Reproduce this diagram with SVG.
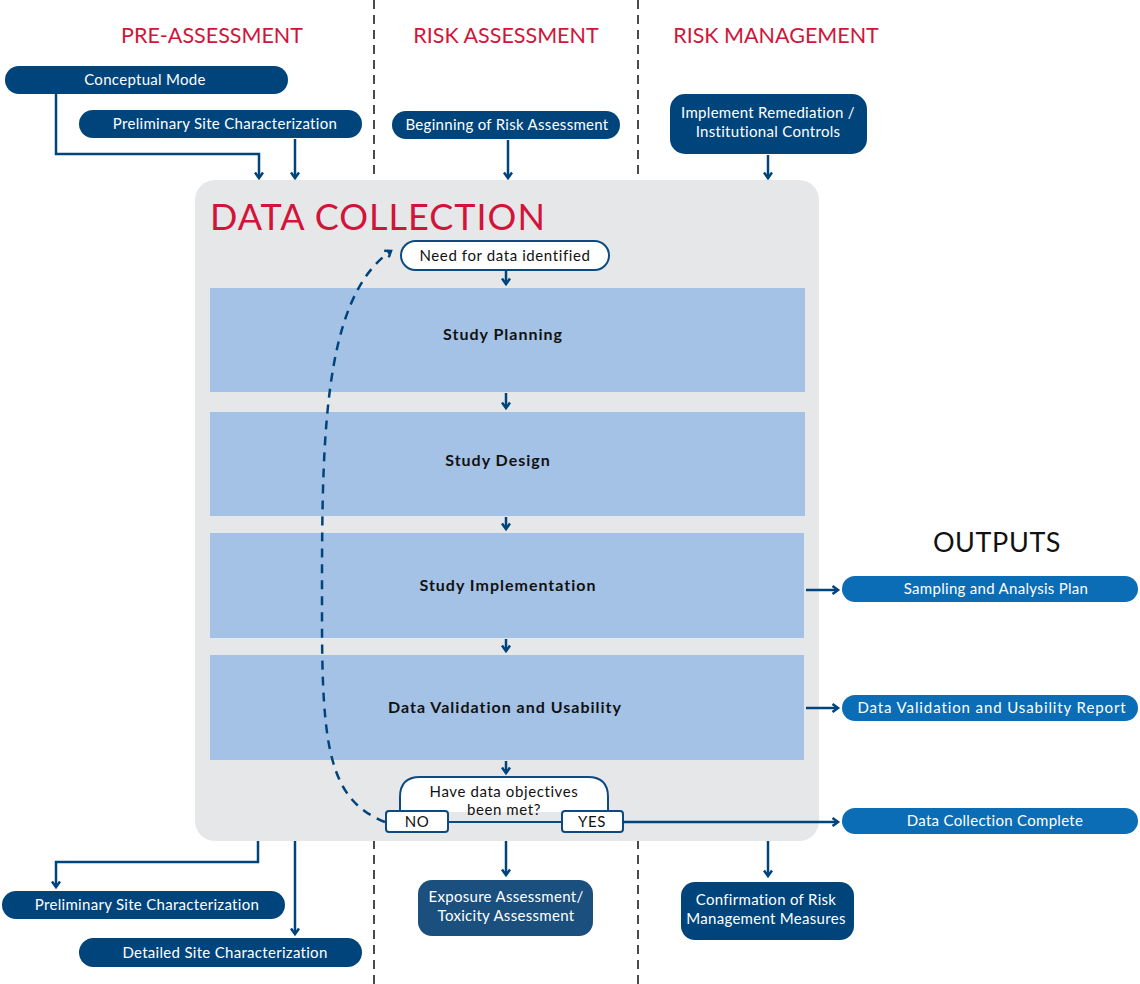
<svg xmlns="http://www.w3.org/2000/svg" width="1140" height="984" viewBox="0 0 1140 984">
<defs>
<style>
.head{font-family:Lato,"Open Sans","Liberation Sans",sans-serif;font-size:21.5px;fill:#d2143a;text-anchor:middle}
.pill{fill:#00447c}
.out{fill:#0b6db5}
.pt{font-family:Lato,"Open Sans","Liberation Sans",sans-serif;font-size:15px;letter-spacing:0.3px;fill:#fff;text-anchor:middle}
.bt{font-family:Lato,"Open Sans","Liberation Sans",sans-serif;font-size:16px;letter-spacing:1px;font-weight:bold;fill:#111;text-anchor:middle}
.dt{font-family:Lato,"Open Sans","Liberation Sans",sans-serif;font-size:15px;letter-spacing:0.6px;fill:#111;text-anchor:middle}
.step{fill:#a4c2e6}
.con{fill:none;stroke:#00447c;stroke-width:2.5;marker-end:url(#ah)}
.div{stroke:#111;stroke-width:1.5;stroke-dasharray:9 6}
.wb{fill:#fff;stroke:#0d4a80;stroke-width:2}
</style>
<marker id="ah" viewBox="0 0 10 10" refX="7" refY="5" markerWidth="10" markerHeight="10" markerUnits="userSpaceOnUse" orient="auto">
<path d="M1.5,1 L7,5 L1.5,9" fill="none" stroke="#00447c" stroke-width="2.5"/>
</marker>
</defs>
<rect width="1140" height="984" fill="#fff"/>
<g id="dividers">
<line class="div" x1="374" y1="0" x2="374" y2="984"/>
<line class="div" x1="638" y1="0" x2="638" y2="984"/>
</g>
<g id="headings">
<text class="head" x="212" y="43">PRE-ASSESSMENT</text>
<text class="head" x="506" y="43">RISK ASSESSMENT</text>
<text class="head" x="776" y="43">RISK MANAGEMENT</text>
<text x="997" y="552" style="font-family:Lato,'Open Sans','Liberation Sans',sans-serif;font-size:27px;letter-spacing:0.6px;fill:#111;text-anchor:middle">OUTPUTS</text>
</g>
<g id="data-collection">
<rect x="195" y="180" width="624" height="661" rx="20" fill="#e6e7e8"/>
<text x="210" y="230" style="font-family:Lato,'Open Sans','Liberation Sans',sans-serif;font-size:36px;letter-spacing:1px;fill:#d2143a">DATA COLLECTION</text>
</g>
<g id="conceptual-model"><rect class="pill" x="5" y="66" width="283" height="28" rx="14"/><text class="pt" x="145" y="85">Conceptual Mode</text></g>
<g id="prelim-top"><rect class="pill" x="79" y="110" width="283" height="28" rx="14"/><text class="pt" x="225" y="129">Preliminary Site Characterization</text></g>
<g id="begin-ra"><rect class="pill" x="392" y="111" width="228" height="28" rx="14"/><text class="pt" x="507" y="130">Beginning of Risk Assessment</text></g>
<g id="implement"><rect class="pill" x="670" y="94" width="197" height="60" rx="15"/><text class="pt" x="768" y="118">Implement Remediation /</text><text class="pt" x="768" y="137">Institutional Controls</text></g>
<g id="need"><rect class="wb" x="401" y="241" width="208" height="29" rx="14.5"/><text class="dt" x="505" y="261">Need for data identified</text></g>
<g id="study-planning"><rect class="step" x="210" y="288" width="595" height="104"/><text class="bt" x="503" y="340">Study Planning</text></g>
<g id="study-design"><rect class="step" x="210" y="412" width="595" height="104"/><text class="bt" x="498" y="466">Study Design</text></g>
<g id="study-impl"><rect class="step" x="210" y="533" width="594" height="105"/><text class="bt" x="508" y="591">Study Implementation</text></g>
<g id="data-valid"><rect class="step" x="210" y="655" width="594" height="105"/><text class="bt" x="505" y="713">Data Validation and Usability</text></g>
<g id="decision">
<path class="wb" d="M400,812 V797 Q400,777 420,777 H588 Q608,777 608,797 V812 M448,822 H562"/>
<text class="dt" x="504" y="797">Have data objectives</text>
<text class="dt" x="504" y="815">been met?</text>
<rect class="wb" x="386" y="811" width="62" height="21" rx="3"/><text class="dt" x="417" y="827">NO</text>
<rect class="wb" x="562" y="811" width="61" height="21" rx="3"/><text class="dt" x="592" y="827">YES</text>
</g>
<g id="out-sap"><rect class="out" x="842" y="576" width="296" height="26" rx="13"/><text class="pt" x="996" y="594">Sampling and Analysis Plan</text></g>
<g id="out-dvur"><rect class="out" x="842" y="695" width="296" height="26" rx="13"/><text class="pt" x="992" y="713" style="letter-spacing:0.9px">Data Validation and Usability Report</text></g>
<g id="out-dcc"><rect class="out" x="842" y="808" width="296" height="26" rx="13"/><text class="pt" x="995" y="826">Data Collection Complete</text></g>
<g id="prelim-bottom"><rect class="pill" x="2" y="891" width="283" height="28" rx="14"/><text class="pt" x="147" y="910">Preliminary Site Characterization</text></g>
<g id="detailed"><rect class="pill" x="79" y="938" width="283" height="29" rx="14.5"/><text class="pt" x="225" y="958">Detailed Site Characterization</text></g>
<g id="exposure"><rect x="418" y="880" width="175" height="56" rx="14" fill="#1b4f7d"/><text class="pt" x="506" y="902">Exposure Assessment/</text><text class="pt" x="506" y="921">Toxicity Assessment</text></g>
<g id="confirmation"><rect class="pill" x="681" y="882" width="173" height="58" rx="14"/><text class="pt" x="766" y="905">Confirmation of Risk</text><text class="pt" x="766" y="924">Management Measures</text></g>
<g id="connectors">
<path class="con" d="M56,94 V154 H259 V178"/>
<path class="con" d="M295,139 V178"/>
<path class="con" d="M508,140 V178"/>
<path class="con" d="M768,155 V178"/>
<path class="con" d="M506,270 V284"/>
<path class="con" d="M506,393 V408"/>
<path class="con" d="M506,517 V529"/>
<path class="con" d="M506,639 V651"/>
<path class="con" d="M506,761 V773"/>
<path class="con" d="M806,590 H838"/>
<path class="con" d="M806,708 H838"/>
<path class="con" d="M623,822 H838"/>
<path class="con" d="M258,841 V862 H56 V887"/>
<path class="con" d="M295,841 V934"/>
<path class="con" d="M506,841 V875"/>
<path class="con" d="M768,841 V876"/>
<path class="con" d="M385,822 C330,800 322,750 322,620 C322,450 320,300 391,251" style="stroke-dasharray:9 7"/>
</g>
</svg>
